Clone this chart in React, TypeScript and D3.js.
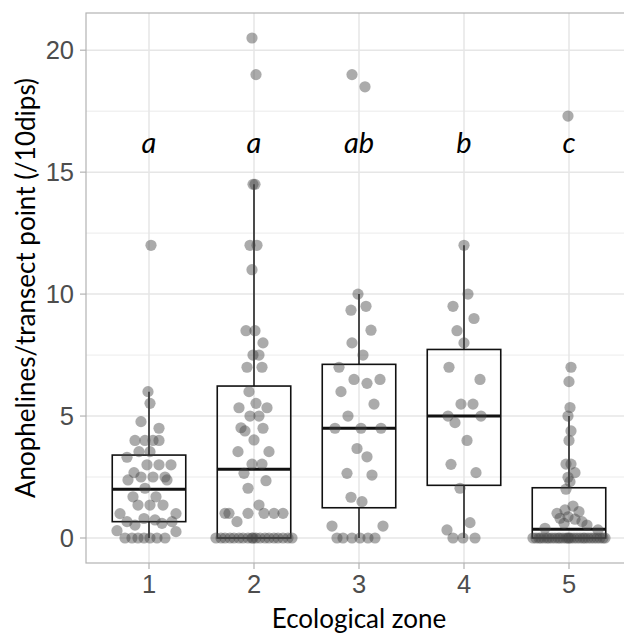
import React from 'react'
import { scaleLinear } from 'd3'

// ecological zones and their significance letters
const zones = [1, 2, 3, 4, 5]
const letters = ['a', 'a', 'ab', 'b', 'c']

// box stats: [lower whisker, q1, median, q3, upper whisker]
const boxStats = [
  [0, 0.67, 2.0, 3.4, 6.0],
  [0, 0, 2.82, 6.23, 14.5],
  [0, 1.24, 4.5, 7.12, 10.0],
  [0, 2.16, 5.0, 7.73, 12.0],
  [0, 0, 0.36, 2.06, 5.0],
]

// jittered points: [value, horizontal jitter in px]
const zone1Pts = [
  [12.0, 2], [6.0, -1], [5.52, 1], [4.77, -8], [4.5, 10], [4.0, -14], [4.0, -4], [4.0, 4], [4.0, 10],
  [3.54, -10], [3.54, 1], [3.31, -22], [3.0, -2], [3.0, 10], [3.0, 22], [2.68, -15], [2.38, -21],
  [2.5, -8], [2.5, 4], [2.5, 16], [2.38, 18], [2.04, -4], [1.69, -16], [1.69, 7], [1.35, -11],
  [1.35, 1], [1.35, 14], [1.0, -29], [1.0, 27], [0.67, -22], [0.8, -5], [0.74, 6], [0.6, 13],
  [0.67, 23], [0.53, -14], [0.3, -32], [0.26, 27], [0, -24], [0, -17], [0, -11], [0, -5], [0, 1],
  [0, 8], [0, 16],
]
const zone2Pts = [
  [20.5, -2], [19.0, 2], [14.5, -1], [14.5, 1], [12.0, -4], [12.0, 3], [11.0, -2], [8.5, -8], [8.5, 1],
  [8.0, 9], [7.5, -1], [7.5, 5], [7.0, -7], [7.0, 8], [6.0, -5], [5.34, -15], [5.52, 2], [5.34, 13],
  [5.0, -4], [5.0, 5], [4.52, -13], [4.39, -9], [4.5, 9], [4.02, 0], [3.54, -16], [3.54, 15],
  [3.03, -2], [3.03, 8], [2.65, -10], [2.35, 12], [2.04, -6], [1.35, 5], [1.01, -29], [1.01, -25],
  [1.01, -6], [1.01, 10], [1.01, 20], [1.01, 29], [0.67, -17],
  [0, -38], [0, -33], [0, -29], [0, -24], [0, -20], [0, -15], [0, -11], [0, -6], [0, -2], [0, -1],
  [0, 2], [0, 6], [0, 11], [0, 15], [0, 20], [0, 24], [0, 29], [0, 34], [0, 38],
]
const zone3Pts = [
  [19.0, -7], [18.5, 6], [10.0, -1], [9.34, -8], [9.5, 7], [8.52, 12], [8.0, -7], [7.5, 4], [7.0, -20],
  [6.5, -5], [6.34, 8], [6.5, 21], [6.0, -18], [5.49, 15], [5.0, -11], [4.5, -24], [4.5, 2], [4.5, 22],
  [3.67, -2], [3.33, 8], [2.65, -12], [2.58, 13], [1.67, -8], [1.49, 3], [0.49, -27], [0.49, 24],
  [0, -22], [0, -16], [0, -7], [0, 1], [0, 9], [0, 16],
]
const zone4Pts = [
  [12.0, 0], [10.0, 4], [9.5, -11], [9.0, 10], [8.5, -7], [8.0, 0], [7.0, -15], [6.5, 16], [5.49, -3],
  [5.49, 9], [5.0, -16], [5.0, 17], [4.73, -9], [4.0, 3], [3.02, -13], [2.68, 12], [2.04, -4],
  [0.63, 6], [0.33, -17], [0, -11], [0, -1], [0, 11],
]
const zone5Pts = [
  [17.3, -1], [7.0, 2], [6.41, 0], [5.35, 1], [5.0, -1], [4.39, 2], [4.0, 0], [3.03, -3], [3.03, 2],
  [2.68, 6], [2.49, -1], [2.31, 1], [2.0, -3], [1.31, 4], [1.15, -4], [1.01, -12], [1.08, 10],
  [0.81, -9], [0.87, -1], [0.77, 6], [0.67, 13], [0.6, -5], [0.53, 18], [0.4, -24], [0.33, 29],
  [0, -36], [0, -33], [0, -30], [0, -28], [0, -25], [0, -22], [0, -20], [0, -17], [0, -14], [0, -11],
  [0, -9], [0, -6], [0, -3], [0, -1], [0, 0], [0, 2], [0, 5], [0, 8], [0, 11], [0, 14], [0, 16],
  [0, 19], [0, 22], [0, 25], [0, 28], [0, 31], [0, 34], [0, 36],
]
const allPts = [zone1Pts, zone2Pts, zone3Pts, zone4Pts, zone5Pts]

const yTicks = [0, 5, 10, 15, 20]
const yMinor = [2.5, 7.5, 12.5, 17.5]
const letterY = 15.8

const W = 624, H = 634
const left = 86, right = 632, top = 13, bottom = 563

export default function App() {
  const x = scaleLinear().domain([0.4, 5.6]).range([left, right])
  const y = scaleLinear().domain([-1.025, 21.525]).range([bottom, top])
  const bw = (x(1.35) - x(1)) // half box width

  const gridCol = '#e6e6e6'
  const tickFont = '"Liberation Sans", Arial, sans-serif'
  const titleFont = 'Lato, "Open Sans", sans-serif'

  return (
    <svg width={W} height={H} style={{ position: 'absolute', left: 0, top: 0, background: '#fff' }}>
      <defs>
        <clipPath id="panel">
          <rect x={left} y={top} width={right - left} height={bottom - top} />
        </clipPath>
      </defs>
      {/* grid */}
      <g>
        {yMinor.map(v => (
          <line key={'m' + v} x1={left} x2={right} y1={y(v)} y2={y(v)} stroke={gridCol} strokeWidth={0.8} />
        ))}
        {yTicks.map(v => (
          <line key={'g' + v} x1={left} x2={right} y1={y(v)} y2={y(v)} stroke={gridCol} strokeWidth={1.5} />
        ))}
        {zones.map(z => (
          <line key={'v' + z} x1={x(z)} x2={x(z)} y1={top} y2={bottom} stroke={gridCol} strokeWidth={1.5} />
        ))}
      </g>
      {/* boxes */}
      <g clipPath="url(#panel)">
        {boxStats.map(([lo, q1, med, q3, hi], i) => {
          const cx = x(zones[i])
          return (
            <g key={'b' + i}>
              <line x1={cx} x2={cx} y1={y(q3)} y2={y(hi)} stroke="#222" strokeWidth={1.6} />
              <line x1={cx} x2={cx} y1={y(q1)} y2={y(lo)} stroke="#222" strokeWidth={1.6} />
              <rect x={cx - bw} width={bw * 2} y={y(q3)} height={y(q1) - y(q3)} fill="none" stroke="#111" strokeWidth={1.6} />
              <line x1={cx - bw} x2={cx + bw} y1={y(med)} y2={y(med)} stroke="#111" strokeWidth={3} />
            </g>
          )
        })}
      </g>
      {/* jittered points */}
      <g clipPath="url(#panel)">
        {allPts.map((pts, i) =>
          pts.map(([v, j], k) => (
            <circle key={i + '-' + k} cx={x(zones[i]) + j} cy={y(v)} r={5.6} fill="#444" fillOpacity={0.45} />
          ))
        )}
      </g>
      {/* letters */}
      {letters.map((l, i) => (
        <text key={'l' + i} x={x(zones[i])} y={y(letterY)} textAnchor="middle" fontFamily={titleFont}
          fontStyle="italic" fontSize={29} fill="#000">{l}</text>
      ))}
      {/* panel border */}
      <rect x={left} y={top} width={right - left} height={bottom - top} fill="none" stroke="#b3b3b3" strokeWidth={1.2} />
      {/* y axis */}
      {yTicks.map(v => (
        <g key={'yt' + v}>
          <line x1={left - 6} x2={left} y1={y(v)} y2={y(v)} stroke="#b3b3b3" strokeWidth={1.2} />
          <text x={left - 12} y={y(v)} dy="0.36em" textAnchor="end" fontFamily={tickFont} fontSize={25.5} fill="#4d4d4d">{v}</text>
        </g>
      ))}
      {/* x axis */}
      {zones.map(z => (
        <g key={'xt' + z}>
          <line x1={x(z)} x2={x(z)} y1={bottom} y2={bottom + 6} stroke="#b3b3b3" strokeWidth={1.2} />
          <text x={x(z)} y={bottom + 30} textAnchor="middle" fontFamily={tickFont} fontSize={25.5} fill="#4d4d4d">{z}</text>
        </g>
      ))}
      <text x={(left + right) / 2} y={628} textAnchor="middle" fontFamily={titleFont} fontSize={26} fill="#000">Ecological zone</text>
      <text transform={`translate(35,${(top + bottom) / 2}) rotate(-90)`} textAnchor="middle" fontFamily={titleFont}
        fontSize={26} fill="#000">Anophelines/transect point (/10dips)</text>
    </svg>
  )
}
